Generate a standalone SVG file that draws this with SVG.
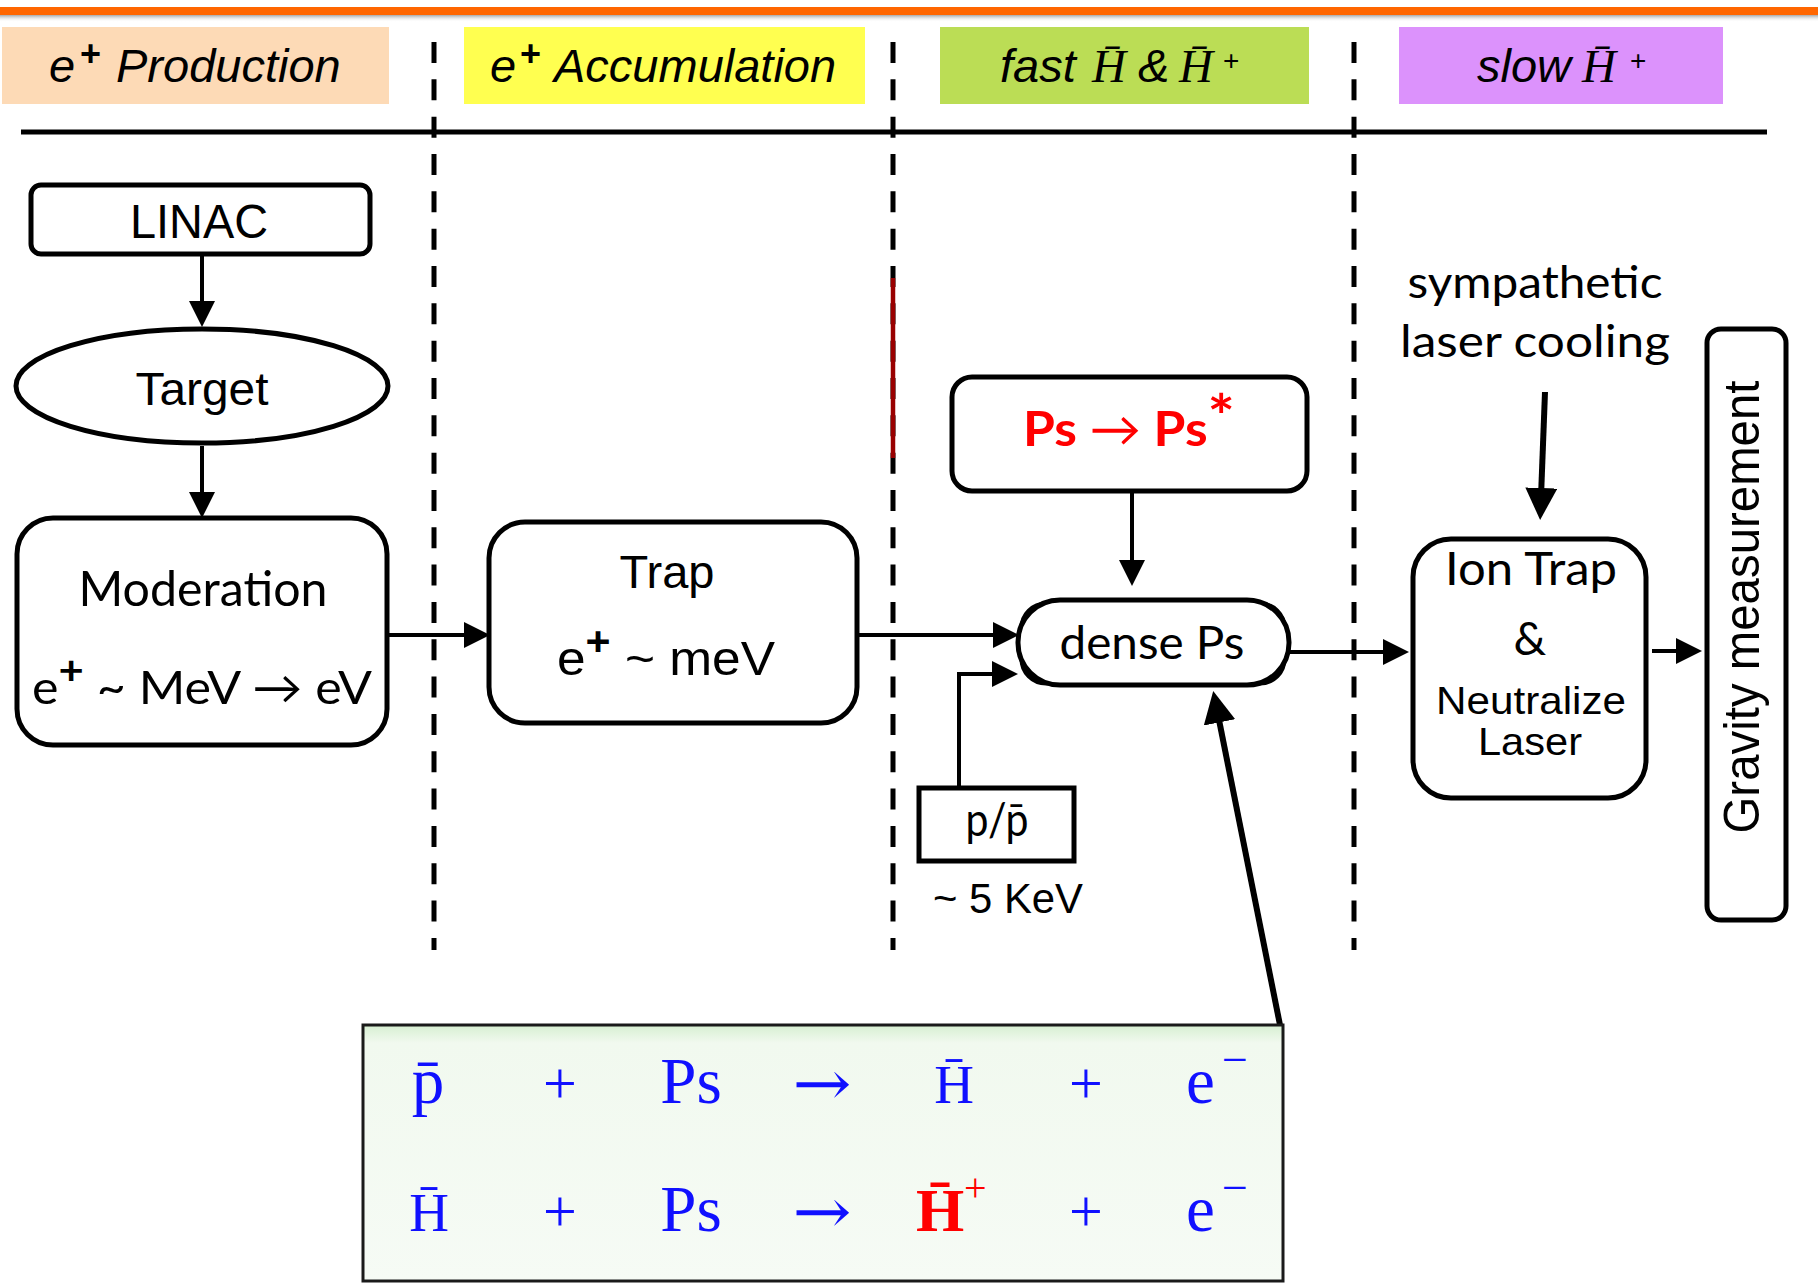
<svg xmlns="http://www.w3.org/2000/svg" width="1818" height="1283" viewBox="0 0 1818 1283">
<defs>
  <linearGradient id="shade" x1="0" y1="0" x2="0" y2="1">
    <stop offset="0" stop-color="#a8a8a8"/>
    <stop offset="1" stop-color="#ffffff" stop-opacity="0"/>
  </linearGradient>
  <linearGradient id="eqfill" x1="0" y1="0" x2="0" y2="1">
    <stop offset="0" stop-color="#d6efd1"/>
    <stop offset="0.07" stop-color="#f1f9ef"/>
    <stop offset="1" stop-color="#f6fbf5"/>
  </linearGradient>
  <marker id="ah" markerUnits="userSpaceOnUse" markerWidth="26" markerHeight="26" refX="1" refY="13" orient="auto" viewBox="0 0 26 26">
    <path d="M0,0 L26,13 L0,26 Z" fill="#000"/>
  </marker>
  <marker id="ahL" markerUnits="userSpaceOnUse" markerWidth="32" markerHeight="32" refX="1" refY="16" orient="auto" viewBox="0 0 32 32">
    <path d="M0,0 L32,16 L0,32 Z" fill="#000"/>
  </marker>
</defs>
<style>
  .box{fill:#fff;stroke:#000;stroke-width:5}
  .conn{fill:none;stroke:#000;stroke-width:4}
  .thick{fill:none;stroke:#000;stroke-width:6}
  .dash{stroke:#000;stroke-width:5;stroke-dasharray:21 16.33}
  .hdr{font-family:"Liberation Sans",Arial,sans-serif;font-style:italic;font-size:47px;fill:#000}
  .hser{font-family:"Liberation Serif","Times New Roman",serif;font-style:italic;font-size:47px;fill:#000}
  .ar{font-family:"Liberation Sans",Arial,sans-serif;fill:#000}
  .gs{font-family:Lato,"Open Sans",sans-serif;fill:#000}
  .eq{font-family:"Liberation Serif","Times New Roman",serif;fill:#1010ff}
  .arrow{font-family:"DejaVu Serif","DejaVu Sans",serif;fill:#1010ff}
  .sup{font-weight:bold}
</style>

<rect width="1818" height="1283" fill="#fff"/>

<!-- top bar -->
<rect x="0" y="15" width="1818" height="7" fill="url(#shade)"/>
<rect x="0" y="7" width="1818" height="8" fill="#ff6600"/>

<!-- stage headers -->
<g id="hdr-production">
  <rect x="2" y="27" width="387" height="77" fill="#fddab6"/>
  <text class="hdr" y="82"><tspan x="49">e</tspan><tspan x="80" y="66" font-style="normal" font-weight="bold" font-size="36">+</tspan><tspan x="116" y="82">Production</tspan></text>
</g>
<g id="hdr-accumulation">
  <rect x="464" y="27" width="401" height="77" fill="#ffff50"/>
  <text class="hdr" y="82"><tspan x="490">e</tspan><tspan x="520" y="66" font-style="normal" font-weight="bold" font-size="36">+</tspan><tspan x="554" y="82">Accumulation</tspan></text>
</g>
<g id="hdr-fast">
  <rect x="940" y="27" width="369" height="77" fill="#bbdd55"/>
  <text class="hdr" x="1000" y="82">fast</text>
  <text class="hser" x="1092" y="82">H̄</text>
  <text class="hdr" x="1138" y="82">&amp;</text>
  <text class="hser" x="1179" y="82">H̄</text>
  <text class="ar" x="1223" y="70" font-size="28">+</text>
</g>
<g id="hdr-slow">
  <rect x="1399" y="27" width="324" height="77" fill="#dc92fc"/>
  <text class="hdr" x="1477" y="82">slow</text>
  <text class="hser" x="1582" y="82">H̄</text>
  <text class="ar" x="1630" y="70" font-size="28">+</text>
</g>

<!-- separators -->
<g id="separators">
  <line x1="21" y1="132" x2="1767" y2="132" stroke="#000" stroke-width="5"/>
  <line class="dash" x1="434" y1="42" x2="434" y2="950"/>
  <line class="dash" x1="893" y1="42" x2="893" y2="950"/>
  <line class="dash" x1="1354" y1="42" x2="1354" y2="950"/>
  <line x1="893" y1="278" x2="893" y2="458" stroke="#990000" stroke-width="4.5"/>
</g>

<!-- connectors -->
<g id="connectors">
  <path class="conn" d="M202,254 V302" marker-end="url(#ah)"/>
  <path class="conn" d="M202,446 V493" marker-end="url(#ah)"/>
  <path class="conn" d="M387,635 H465" marker-end="url(#ah)"/>
  <path class="conn" d="M857,635 H994" marker-end="url(#ah)"/>
  <path class="conn" d="M1132,491 V561" marker-end="url(#ah)"/>
  <path class="conn" d="M959,790 V674 H993" marker-end="url(#ah)"/>
  <path class="thick" d="M1280,1025 L1219.3,721.4" marker-end="url(#ahL)"/>
  <path class="conn" d="M1289,652 H1384" marker-end="url(#ah)"/>
  <path class="thick" d="M1545,392 L1541.3,489" marker-end="url(#ahL)"/>
  <path class="conn" d="M1652,651 H1677" marker-end="url(#ah)"/>
</g>

<!-- nodes -->
<g id="linac">
  <rect class="box" x="31" y="185" width="339" height="69" rx="10"/>
  <text class="ar" x="199" y="238" font-size="48" text-anchor="middle" textLength="138" lengthAdjust="spacingAndGlyphs">LINAC</text>
</g>
<g id="target">
  <ellipse class="box" cx="202" cy="386" rx="186" ry="57"/>
  <text class="ar" x="202" y="405" font-size="46" text-anchor="middle" textLength="133" lengthAdjust="spacingAndGlyphs">Target</text>
</g>
<g id="moderation">
  <rect class="box" x="17" y="518" width="370" height="227" rx="36"/>
  <text class="gs" x="203" y="606" font-size="48" text-anchor="middle" textLength="249" lengthAdjust="spacingAndGlyphs">Moderation</text>
  <text class="gs" x="32" y="704" font-size="46" textLength="340" lengthAdjust="spacingAndGlyphs">e<tspan class="sup" font-size="40" dy="-20">+</tspan><tspan dy="20"> ~ MeV → eV</tspan></text>
</g>
<g id="trap">
  <rect class="box" x="489" y="522" width="368" height="201" rx="36"/>
  <text class="ar" x="667" y="588" font-size="46" text-anchor="middle" textLength="95" lengthAdjust="spacingAndGlyphs">Trap</text>
  <text class="ar" x="557" y="675" font-size="48" textLength="218" lengthAdjust="spacingAndGlyphs">e<tspan class="sup" font-size="40" dy="-20">+</tspan><tspan dy="20"> ~ meV</tspan></text>
</g>
<g id="excite">
  <rect class="box" x="952" y="377" width="355" height="114" rx="20"/>
  <text class="gs" x="1023" y="446" font-size="48" font-weight="bold" style="fill:#ff0000" textLength="212" lengthAdjust="spacingAndGlyphs">Ps <tspan font-weight="normal">→</tspan> Ps<tspan font-size="60" dy="-8">*</tspan></text>
</g>
<g id="dense-ps">
  <rect x="1022" y="604" width="262" height="79" rx="24" fill="none" stroke="#000" stroke-width="5"/>
  <rect class="box" x="1018" y="600" width="271" height="85" rx="42"/>
  <text class="gs" x="1152" y="659" font-size="46" text-anchor="middle" textLength="185" lengthAdjust="spacingAndGlyphs">dense Ps</text>
</g>
<g id="pbar">
  <rect class="box" x="919" y="788" width="155" height="73"/>
  <text class="gs" x="997" y="836" font-size="46" text-anchor="middle" textLength="63" lengthAdjust="spacingAndGlyphs">p/p̄</text>
  <text class="ar" x="933" y="913" font-size="42" textLength="150" lengthAdjust="spacingAndGlyphs">~ 5 KeV</text>
</g>
<g id="cooling">
  <text class="gs" x="1535" y="298" font-size="44" text-anchor="middle" textLength="255" lengthAdjust="spacingAndGlyphs">sympathetic</text>
  <text class="gs" x="1535" y="357" font-size="44" text-anchor="middle" textLength="270" lengthAdjust="spacingAndGlyphs">laser cooling</text>
</g>
<g id="ion-trap">
  <rect class="box" x="1413" y="539" width="233" height="259" rx="38"/>
  <text class="gs" x="1531" y="585" font-size="46" text-anchor="middle" textLength="172" lengthAdjust="spacingAndGlyphs">Ion Trap</text>
  <text class="gs" x="1530" y="655" font-size="46" text-anchor="middle">&amp;</text>
  <text class="ar" x="1531" y="714" font-size="39" text-anchor="middle" textLength="190" lengthAdjust="spacingAndGlyphs">Neutralize</text>
  <text class="ar" x="1530" y="755" font-size="39" text-anchor="middle" textLength="104" lengthAdjust="spacingAndGlyphs">Laser</text>
</g>
<g id="gravity">
  <rect class="box" x="1707" y="329" width="79" height="591" rx="14"/>
  <text class="ar" transform="translate(1759,607) rotate(-90)" x="0" y="0" font-size="50" text-anchor="middle" textLength="453" lengthAdjust="spacingAndGlyphs">Gravity measurement</text>
</g>
<g id="equations">
  <rect x="363" y="1025" width="920" height="256" fill="url(#eqfill)" stroke="#1a1a1a" stroke-width="3"/>
  <text class="eq" x="428" y="1103" font-size="65" text-anchor="middle">p̄</text>
  <text class="eq" x="560" y="1103" font-size="60" text-anchor="middle">+</text>
  <text class="eq" x="691" y="1103" font-size="65" text-anchor="middle">Ps</text>
  <text class="arrow" x="822" y="1105" font-size="62" text-anchor="middle" textLength="59" lengthAdjust="spacingAndGlyphs">→</text>
  <text class="eq" x="954" y="1103" font-size="55" text-anchor="middle">H̄</text>
  <text class="eq" x="1086" y="1103" font-size="60" text-anchor="middle">+</text>
  <text class="eq" x="1186" y="1103" font-size="65">e<tspan x="1222" y="1075" font-size="46">−</tspan></text>

  <text class="eq" x="429" y="1231" font-size="55" text-anchor="middle">H̄</text>
  <text class="eq" x="560" y="1231" font-size="60" text-anchor="middle">+</text>
  <text class="eq" x="691" y="1231" font-size="65" text-anchor="middle">Ps</text>
  <text class="arrow" x="822" y="1233" font-size="62" text-anchor="middle" textLength="59" lengthAdjust="spacingAndGlyphs">→</text>
  <text class="eq" x="916" y="1231" font-size="62" font-weight="bold" style="fill:#ff0000">H̄<tspan x="964" y="1201" font-size="40" font-weight="normal">+</tspan></text>
  <text class="eq" x="1086" y="1231" font-size="60" text-anchor="middle">+</text>
  <text class="eq" x="1186" y="1231" font-size="65">e<tspan x="1222" y="1203" font-size="46">−</tspan></text>
</g>
</svg>
